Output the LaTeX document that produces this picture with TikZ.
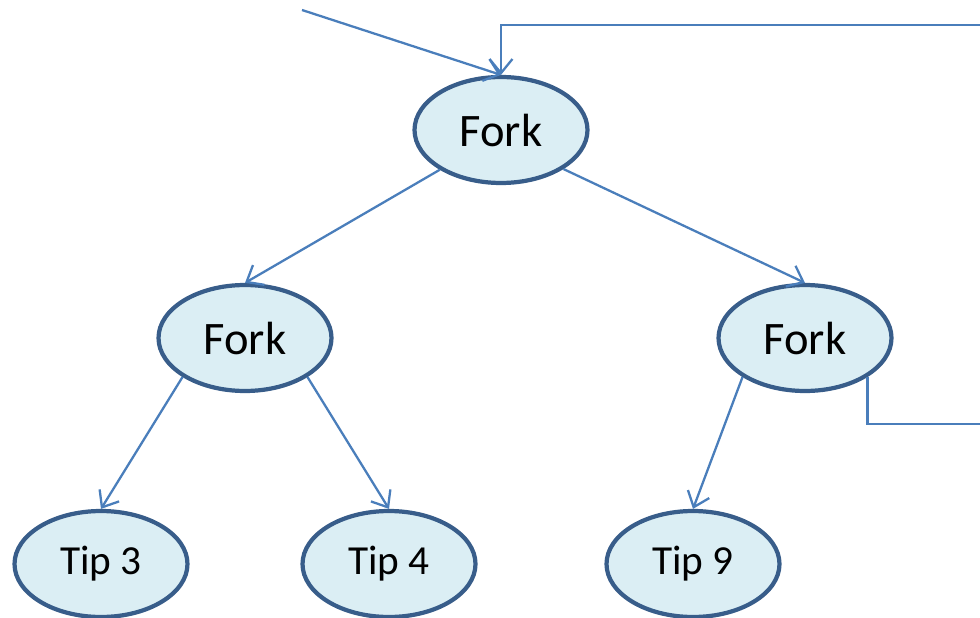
\documentclass[tikz,border=0pt]{standalone}
\usepackage{fontspec}
\setmainfont{Carlito}
\usetikzlibrary{shapes.geometric,arrows.meta}
\definecolor{nodefill}{HTML}{DBEEF4}
\definecolor{nodeline}{HTML}{385D8A}
\definecolor{linkcol}{HTML}{4A7EBB}
\tikzset{
  treenode/.style={ellipse, draw=nodeline, fill=nodefill, line width=2.4pt,
    minimum width=3.46cm, minimum height=2.12cm, inner sep=0pt},
  forknode/.style={treenode, font=\fontsize{26.5}{30}\selectfont},
  tipnode/.style={treenode, font=\fontsize{23.5}{27}\selectfont},
  link/.style={draw=linkcol, line width=1.3pt,
    -{Straight Barb[length=8pt,width=13pt,line width=1.3pt]}},
  plain/.style={draw=linkcol, line width=1.3pt}
}
\begin{document}
\begin{tikzpicture}[x=0.02cm,y=-0.02cm]
\useasboundingbox (0,0) rectangle (980,618);
% tree nodes
\node[forknode] (top) at (501,130) {Fork};
\node[forknode] (ml)  at (245,338) {Fork};
\node[forknode] (mr)  at (805,338) {Fork};
\node[tipnode] (t3) at (101,564) {Tip 3};
\node[tipnode] (t4) at (389,564) {Tip 4};
\node[tipnode] (t9) at (693,564) {Tip 9};
% loose ends of the incoming and looping lines
\coordinate (in)   at (302,10);
\coordinate (outR) at (980,424);
\coordinate (backR) at (980,25);
% incoming line into the root
\draw[link] (in) -- (top.north);
% loop back from the right fork to the root
\draw[plain] (mr.-32) |- (outR);
\draw[link] (backR) -| (top.north);
% tree edges
\draw[link] (top.213) -- (ml.north);
\draw[link] (top.-32) -- (mr.north);
\draw[link] (ml.212) -- (t3.north);
\draw[link] (ml.-32) -- (t4.north);
\draw[link] (mr.212) -- (t9.north);
\end{tikzpicture}
\end{document}
